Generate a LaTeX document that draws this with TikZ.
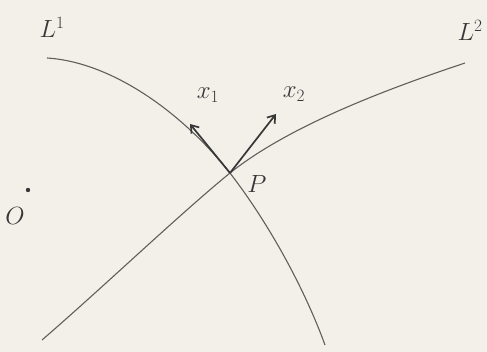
\documentclass[tikz,border=0pt]{standalone}
\usepackage{amsmath}
\usepackage{xcolor}
\usepackage{tikz}
\usetikzlibrary{arrows.meta}

\definecolor{paper}{RGB}{242,240,233}
\definecolor{pencil}{RGB}{95,95,92}
\definecolor{ink}{RGB}{55,55,55}

\begin{document}
\begin{tikzpicture}[
    x=1pt, y=-1pt,
    curve/.style={draw=pencil, line width=1.1pt},
    vec/.style={draw=ink, line width=1.7pt, -{Straight Barb[length=7pt, width=10pt, line width=1.7pt]}},
    lbl/.style={text=ink, font=\fontsize{27}{29}\selectfont, inner sep=0pt}
]
    \fill [paper] (0,0) rectangle (487,352);
    \useasboundingbox (0,0) rectangle (487,352);

    \coordinate (P) at (230,173);
    \coordinate (x1tip) at (190,124);
    \coordinate (x2tip) at (276,114);
    \coordinate (O) at (28,190);
    \coordinate (L1a) at (47,58);
    \coordinate (L1b) at (325,345);
    \coordinate (L2a) at (42,340);
    \coordinate (L2b) at (465,63);

    % the two curves through P
    \draw [curve] (L1a) .. controls (110,62) and (180,110) .. (P) .. controls (270,225) and (305,290) .. (L1b);
    \draw [curve] (L2a) .. controls (100,290) and (182,212) .. (P) .. controls (290,125) and (390,88) .. (L2b);

    \fill [ink] (O) circle (2.2pt);

    \draw [vec] (P) -- (x1tip);
    \draw [vec] (P) -- (x2tip);

    \node [lbl] (L1) at (52,27) {$L^1$};
    \node [lbl] (L2) at (470,30) {$L^2$};
    \node [lbl] (x1) at (208,95) {$x_1$};
    \node [lbl] (x2) at (294,94) {$x_2$};
    \node [lbl] (Plbl) at (257,184) {$P$};
    \node [lbl] (Olbl) at (15,216) {$O$};
\end{tikzpicture}
\end{document}
